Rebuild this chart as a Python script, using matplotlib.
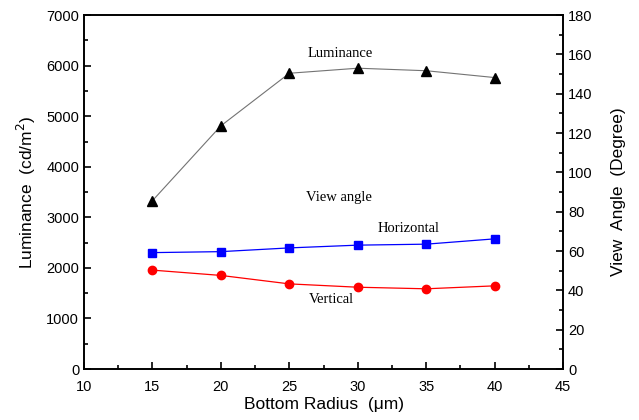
import matplotlib.pyplot as plt
from matplotlib.ticker import MultipleLocator

radius = [15, 20, 25, 30, 35, 40]
luminance = [3330, 4810, 5850, 5950, 5900, 5765]
horizontal = [59.2, 59.7, 61.6, 63.0, 63.5, 66.2]
vertical = [50.3, 47.6, 43.3, 41.6, 40.8, 42.3]

fig = plt.figure(figsize=(6.39, 4.2), dpi=100)
ax = fig.add_axes([0.1315, 0.1214, 0.7496, 0.8426])
ax2 = ax.twinx()

ax.plot(radius, luminance, color='0.45', lw=0.8, marker='^', ms=7,
        mfc='black', mec='black', zorder=3)
ax2.plot(radius, horizontal, color='blue', lw=0.9, marker='s', ms=5.5,
         mfc='blue', mec='blue')
ax2.plot(radius, vertical, color='red', lw=0.9, marker='o', ms=6,
         mfc='red', mec='red')

ax.set_xlim(10, 45)
ax.set_ylim(0, 7000)
ax2.set_ylim(0, 180)

ax.xaxis.set_major_locator(MultipleLocator(5))
ax.xaxis.set_minor_locator(MultipleLocator(2.5))
ax.yaxis.set_major_locator(MultipleLocator(1000))
ax.yaxis.set_minor_locator(MultipleLocator(500))
ax2.yaxis.set_major_locator(MultipleLocator(20))
ax2.yaxis.set_minor_locator(MultipleLocator(10))

sans = 'Liberation Sans'
serif = 'Liberation Serif'
for a in (ax, ax2):
    a.tick_params(which='both', direction='in', labelsize=10.5, width=1.2)
    a.tick_params(which='major', length=5)
    a.tick_params(which='minor', length=3)
    for lab in a.get_xticklabels() + a.get_yticklabels():
        lab.set_fontfamily(sans)
    for s in a.spines.values():
        s.set_linewidth(1.2)
ax.tick_params(axis='x', which='both', top=False, pad=8)

ax.set_xlabel('Bottom Radius  (\u03bcm)', fontsize=12.5, family=sans, labelpad=2)
ax.set_ylabel('Luminance  (cd/m$^2$)', fontsize=12.5, family=sans, labelpad=6)
ax2.set_ylabel('View  Angle  (Degree)', fontsize=12.5, family=sans, labelpad=13)

ax.text(28.7, 6250, 'Luminance', family=serif, fontsize=10.5, ha='center', va='center')
ax.text(28.6, 3400, 'View angle', family=serif, fontsize=10.5, ha='center', va='center')
ax.text(33.7, 2770, 'Horizontal', family=serif, fontsize=10.5, ha='center', va='center')
ax.text(28.1, 1380, 'Vertical', family=serif, fontsize=10.5, ha='center', va='center')

fig.savefig('out.png', dpi=100)
